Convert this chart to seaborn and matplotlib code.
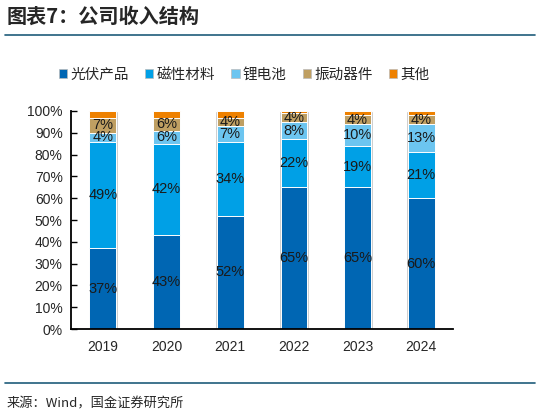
import numpy as np
import pandas as pd
import matplotlib
matplotlib.use("Agg")
import matplotlib.pyplot as plt
import seaborn as sns
from matplotlib.patches import Patch
from matplotlib.lines import Line2D

# 数据
years = ["2019", "2020", "2021", "2022", "2023", "2024"]
series = ["光伏产品", "磁性材料", "锂电池", "振动器件", "其他"]
pv = [37, 43, 52, 65, 65, 60]
magnetic = [49, 42, 34, 22, 19, 21]
battery = [4, 6, 7, 8, 10, 13]
vibration = [7, 6, 4, 4, 4, 4]
other = [3, 3, 3, 1, 2, 2]
colors = ["#0066B3", "#00A0E6", "#6CC5F0", "#BF9F62", "#EE8100"]

sns.set_theme(style="white")
plt.rcParams["font.family"] = ["Liberation Sans", "Noto Sans CJK SC", "DejaVu Sans"]

vals = [pv, magnetic, battery, vibration, other]
df = pd.DataFrame({s: v for s, v in zip(series, vals)}, index=years)
cum = df.cumsum(axis=1)

fig = plt.figure(figsize=(5.4, 4.16), dpi=100)
ax = fig.add_axes([0.1315, 0.2091, 0.7075, 0.5241])

# 灰色外框
sns.barplot(x=years, y=cum[series[-1]].values, color="#C4C4C4", width=0.47,
            saturation=1, ax=ax, order=years)
# 自上而下画累计柱
for s, c in zip(series[::-1], colors[::-1]):
    sns.barplot(x=years, y=cum[s].values, color=c, width=0.42, saturation=1,
                edgecolor="white", linewidth=0.7, ax=ax, order=years)

# 数据标签
for j, s in enumerate(series[:-1]):
    for i, y in enumerate(years):
        v = df.loc[y, s]
        mid = cum.loc[y, s] - v / 2
        ax.text(i, mid, f"{v}%", ha="center", va="center", fontsize=10.5,
                color="#1a1a1a")

ax.set_ylim(0, 100)
ax.set_xlim(-0.5, 5.5)
ax.set_yticks(np.arange(0, 101, 10))
ax.set_yticklabels([f"{t}%" for t in range(0, 101, 10)], fontsize=10)
ax.set_xticks(range(len(years)))
ax.set_xticklabels(years, fontsize=10)
ax.set_xticks(np.arange(-0.5, 6, 1), minor=True)
ax.tick_params(axis="x", which="major", length=0, pad=8)
ax.tick_params(axis="x", which="minor", direction="in", length=4, width=1, color="black")
ax.tick_params(axis="y", direction="in", length=4, width=1, color="black", left=True, pad=6)
ax.set_xlabel("")
ax.set_ylabel("")
for sp in ["top", "right"]:
    ax.spines[sp].set_visible(False)
for sp in ["left", "bottom"]:
    ax.spines[sp].set_color("black")
    ax.spines[sp].set_linewidth(1.3)

# 图例
handles = [Patch(facecolor=c, edgecolor="#BBBBBB", linewidth=0.5) for c in colors]
fig.legend(handles, series, loc="center", bbox_to_anchor=(0.452, 0.82), ncol=5,
           frameon=False, fontsize=10.5, handlelength=0.6, handleheight=0.6,
           handletextpad=0.2, columnspacing=1.1)

# 标题和来源
fig.text(0.012, 0.962, "图表7：公司收入结构", fontsize=14.5, fontweight="bold",
         style="italic", ha="left", va="center", family=["Noto Sans CJK SC"])
fig.add_artist(Line2D([0.01, 0.99], [0.915, 0.915], color="#1F5C7A", linewidth=1.2))
fig.add_artist(Line2D([0.01, 0.99], [0.08, 0.08], color="#1F5C7A", linewidth=1.2))
fig.text(0.012, 0.03, "来源：Wind，国金证券研究所", fontsize=9.5, ha="left",
         va="center", family=["Noto Sans CJK SC"])

fig.savefig("out.png", dpi=100)
